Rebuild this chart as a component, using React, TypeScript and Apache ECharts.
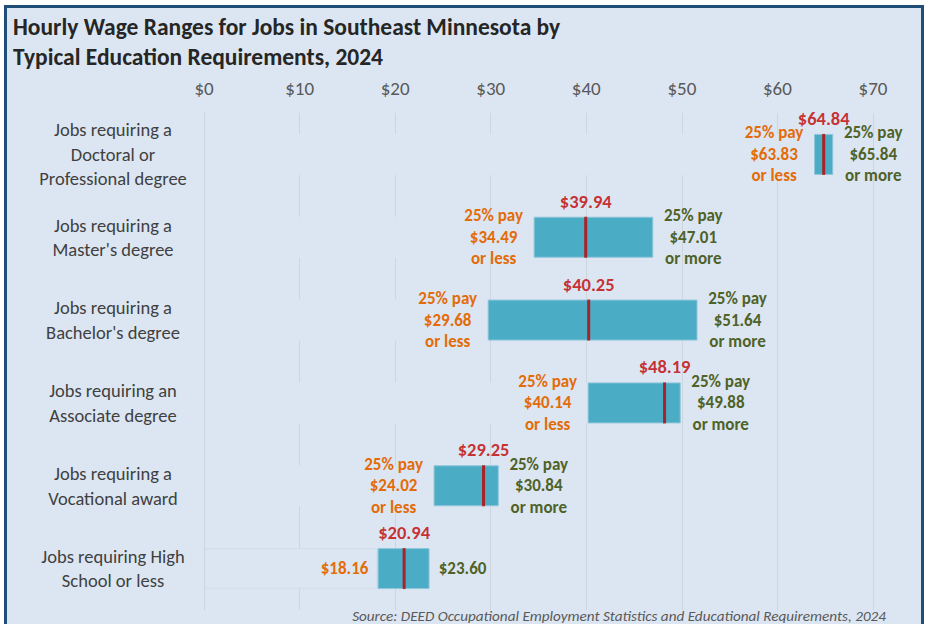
import React, { useEffect, useRef } from "react";
import * as echarts from "echarts";

const categories = [
  "Jobs requiring a\nDoctoral or\nProfessional degree",
  "Jobs requiring a\nMaster's degree",
  "Jobs requiring a\nBachelor's degree",
  "Jobs requiring an\nAssociate degree",
  "Jobs requiring a\nVocational award",
  "Jobs requiring High\nSchool or less",
];
const p25 = [63.83, 34.49, 29.68, 40.14, 24.02, 18.16];
const medianWage = [64.84, 39.94, 40.25, 48.19, 29.25, 20.94];
const p75 = [65.84, 47.01, 51.64, 49.88, 30.84, 23.6];
const xTicks = [0, 10, 20, 30, 40, 50, 60, 70];

const FONT = "Carlito, 'Liberation Sans Narrow', 'Open Sans', sans-serif";
const BG = "#dce6f2";
const ORANGE = "#e36c09";
const GREEN = "#4f6228";
const RED = "#c00000";
const TEAL = "#4bacc6";

export default function App() {
  const ref = useRef<HTMLDivElement>(null);
  useEffect(() => {
    document.body.style.margin = "0";
    if (!ref.current) return;
    const chart = echarts.init(ref.current, null, { renderer: "svg" });
    const last = categories.length - 1;
    const fmt = (v: number) => "$" + v.toFixed(2);
    chart.setOption({
      animation: false,
      backgroundColor: "transparent",
      textStyle: { fontFamily: FONT },
      title: {
        text: "Hourly Wage Ranges for Jobs in Southeast Minnesota by\nTypical Education Requirements, 2024",
        left: 8,
        top: 7,
        textStyle: {
          fontFamily: FONT,
          fontSize: 23.5,
          fontWeight: "bold",
          color: "#262626",
          lineHeight: 30,
        },
      },
      grid: { left: 204, right: 52, top: 113, bottom: 14 },
      xAxis: {
        type: "value",
        position: "top",
        min: xTicks[0],
        max: xTicks[xTicks.length - 1],
        interval: 10,
        axisLine: { show: false },
        axisTick: { show: false },
        axisLabel: {
          formatter: (v: number) => "$" + v,
          color: "#595959",
          fontSize: 19,
          margin: 15,
          fontFamily: FONT,
        },
        splitLine: { lineStyle: { color: "#cfd5dd", width: 1 } },
      },
      yAxis: {
        type: "category",
        data: categories,
        inverse: true,
        z: 3,
        axisLine: { show: true, lineStyle: { color: "#cfd5dd" } },
        axisTick: { show: false },
        axisLabel: {
          align: "center",
          margin: 91,
          color: "#404040",
          fontSize: 18.5,
          lineHeight: 24.5,
          fontFamily: FONT,
        },
      },
      series: [
        {
          type: "bar",
          stack: "w",
          barWidth: 41,
          data: p25.map((v, i) => ({
            value: v,
            itemStyle:
              i === last
                ? { color: BG, borderColor: "#d2e0ed", borderWidth: 1.5 }
                : { color: BG },
            label: {
              offset: i === last ? [-33, 0] : [-40, 0],
            },
          })),
          label: {
            show: true,
            position: "insideRight",
            distance: 0,
            align: "center",
            color: ORANGE,
            fontWeight: "bold",
            fontSize: 17,
            lineHeight: 21.5,
            fontFamily: FONT,
            formatter: (p: any) =>
              p.dataIndex === last ? fmt(p25[p.dataIndex]) : "25% pay\n" + fmt(p25[p.dataIndex]) + "\nor less",
          },
        },
        {
          type: "bar",
          stack: "w",
          barWidth: 41,
          data: p75.map((v, i) => ({
            value: +(v - p25[i]).toFixed(2),
            label: { offset: i === last ? [33, 0] : [40, 0] },
          })),
          itemStyle: { color: TEAL, borderColor: "#8fc6db", borderWidth: 1 },
          label: {
            show: true,
            position: "right",
            distance: 0,
            align: "center",
            color: GREEN,
            fontWeight: "bold",
            fontSize: 17,
            lineHeight: 21.5,
            fontFamily: FONT,
            formatter: (p: any) =>
              p.dataIndex === last ? fmt(p75[p.dataIndex]) : "25% pay\n" + fmt(p75[p.dataIndex]) + "\nor more",
          },
        },
        {
          type: "scatter",
          data: medianWage.map((v, i) => [v, i]),
          symbol: "rect",
          symbolSize: [3, 41],
          itemStyle: { color: RED },
          z: 5,
          label: {
            show: true,
            position: "top",
            distance: 6,
            color: RED,
            fontWeight: "bold",
            fontSize: 18.5,
            fontFamily: FONT,
            formatter: (p: any) => fmt(medianWage[p.dataIndex]),
          },
        },
      ],
      graphic: [
        {
          type: "text",
          right: 39,
          top: 608,
          style: {
            text: "Source: DEED Occupational Employment Statistics and Educational Requirements, 2024",
            fill: "#595959",
            font: "italic 15.2px " + FONT,
          },
        },
      ],
    });
    return () => chart.dispose();
  }, []);
  return (
    <div style={{ position: "relative", width: 925, height: 624, overflow: "hidden", background: "#fff" }}>
      <div
        style={{
          position: "absolute",
          left: 4,
          top: 5,
          width: 920,
          height: 700,
          boxSizing: "border-box",
          border: "3px solid #1f4e79",
          background: BG,
        }}
      />
      <div ref={ref} style={{ position: "absolute", left: 0, top: 0, width: 925, height: 624 }} />
    </div>
  );
}
